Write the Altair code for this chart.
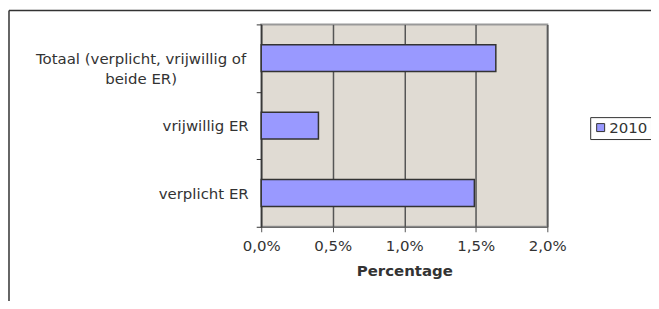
import altair as alt
import pandas as pd

categories = ["Totaal (verplicht, vrijwillig of beide ER)", "vrijwillig ER", "verplicht ER"]
values = [0.0164, 0.0040, 0.0149]
series = ["2010", "2010", "2010"]
x_ticks = [0, 0.005, 0.01, 0.015, 0.02]

df = pd.DataFrame({"cat": categories, "val": values, "jaar": series})

FONT = "DejaVu Sans"
TXT = "#333333"
FS = 15

label_expr = "datum.value == 'Totaal (verplicht, vrijwillig of beide ER)' ? ['Totaal (verplicht, vrijwillig of', 'beide ER)'] : datum.value"

bars = alt.Chart(df).mark_bar(size=27, stroke="#333333", strokeWidth=1.5).encode(
    y=alt.Y("cat:N", sort=categories, title=None,
            scale=alt.Scale(paddingInner=0, paddingOuter=0),
            axis=alt.Axis(tickBand="extent", labelExpr=label_expr,
                          labelAlign={"condition": {"test": "length(datum.label) > 20", "value": "center"}, "value": "right"},
                          labelPadding={"condition": {"test": "length(datum.label) > 20", "value": 116}, "value": 8},
                          tickSize=5, tickColor="#333333", domainColor="#333333",
                          labelFont=FONT, labelFontSize=FS, labelColor=TXT, labelLineHeight=20,
                          labelLimit=400, grid=False)),
    x=alt.X("val:Q", title="Percentage",
            scale=alt.Scale(domain=[0, 0.02], nice=False),
            axis=alt.Axis(values=x_ticks,
                          labelExpr="replace(format(datum.value, '.1%'), '.', ',')",
                          labelFlush=False, labelOverlap=False,
                          tickSize=5, tickColor="#555555", domainColor="#555555",
                          grid=True, gridColor="#555555", gridWidth=1.5,
                          labelFont=FONT, labelFontSize=FS, labelColor=TXT, labelPadding=7,
                          titleFont=FONT, titleFontSize=FS, titleFontWeight="bold",
                          titleColor=TXT, titlePadding=10)),
    color=alt.Color("jaar:N", title=None,
                    scale=alt.Scale(range=["#9999FF"]),
                    legend=alt.Legend(orient="none", legendX=330, legendY=93,
                                      symbolType="square", symbolSize=64,
                                      symbolStrokeColor="#333333", symbolStrokeWidth=1,
                                      labelFont=FONT, labelFontSize=FS, labelColor=TXT,
                                      labelOffset=1, padding=3,
                                      strokeColor="#333333")),
)

frame_df = pd.DataFrame({"k": [0]})
frame_left = alt.Chart(frame_df).mark_rule(color="#333333", strokeWidth=1.5).encode(
    x=alt.value(-253), y=alt.value(-14), y2=alt.value(300)
)
frame_top = alt.Chart(frame_df).mark_rule(color="#333333", strokeWidth=1.5).encode(
    x=alt.value(-253), x2=alt.value(420), y=alt.value(-14)
)

chart = alt.layer(frame_left, frame_top, bars).properties(
    width=287, height=203,
    autosize=alt.AutoSizeParams(type="none"),
    padding={"left": 254, "top": 16, "right": 104, "bottom": 74},
).configure_view(
    fill="#E0DBD3", stroke="#999999", strokeWidth=2
)

chart.save("out.html", embed_options={"renderer": "svg", "actions": False})
